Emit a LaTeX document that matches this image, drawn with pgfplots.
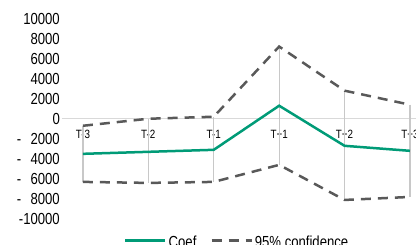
\documentclass[border=0pt]{standalone}
\usepackage{pgfplots}
\pgfplotsset{compat=1.18}
\usepackage{fontspec}
\setmainfont{Liberation Sans}[FakeStretch=0.82]
\definecolor{coefgreen}{RGB}{0,155,119}
\definecolor{cigray}{RGB}{89,89,89}
\definecolor{hlgray}{RGB}{200,200,200}
\definecolor{zerogray}{RGB}{217,217,217}
\pgfplotstableread{
x coef upper lower
0 -3500 -700 -6300
1 -3300 0 -6400
2 -3100 200 -6300
3 1300 7200 -4600
4 -2700 2800 -8100
5 -3200 1400 -7800
}\datatable
\newcommand{\negl}[1]{\makebox[43pt]{-\hfill #1}}
\begin{document}
\begin{tikzpicture}[x=1pt,y=1pt]
\begin{axis}[
  at={(62pt,26pt)}, anchor=south west,
  scale only axis, width=368.9pt, height=200.5pt,
  xmin=-0.32, xmax=5.32, ymin=-10000, ymax=10000,
  scaled y ticks=false,
  axis x line=middle, axis y line=left,
  x axis line style={zerogray, line width=1.2pt, -},
  y axis line style={draw=none},
  hide obscured x ticks=false,
  major tick length=0pt,
  xtick={0,1,2,3,4,5},
  xticklabels={T-3,T-2,T-1,T+1,T+2,T+3},
  xticklabel style={font=\fontsize{12}{12}\selectfont, anchor=north, inner sep=0pt, yshift=-11pt},
  ytick={-10000,-8000,-6000,-4000,-2000,0,2000,4000,6000,8000,10000},
  yticklabels={-10000,\negl{8000},\negl{6000},\negl{4000},\negl{2000},0,2000,4000,6000,8000,10000},
  yticklabel style={font=\fontsize{16}{16}\selectfont, anchor=east, inner sep=0pt, xshift=-2pt},
  clip=false,
  legend columns=2,
  legend style={draw=none, fill=none, at={(axis description cs:0.475,-0.118)}, anchor=center,
    font=\fontsize{16}{16}\selectfont, inner sep=0pt,
    /tikz/every even column/.append style={column sep=12pt}},
  legend image code/.code={\draw[#1] (0pt,2pt) -- (40pt,2pt);},
]
\addplot[hlgray, line width=1.3pt, forget plot] coordinates {(0,-700) (0,-6300)};
\addplot[hlgray, line width=1.3pt, forget plot] coordinates {(1,0) (1,-6400)};
\addplot[hlgray, line width=1.3pt, forget plot] coordinates {(2,200) (2,-6300)};
\addplot[hlgray, line width=1.3pt, forget plot] coordinates {(3,7200) (3,-4600)};
\addplot[hlgray, line width=1.3pt, forget plot] coordinates {(4,2800) (4,-8100)};
\addplot[hlgray, line width=1.3pt, forget plot] coordinates {(5,1400) (5,-7800)};
\addplot[coefgreen, line width=2.5pt] table[x=x, y=coef] {\datatable};
\addlegendentry{Coef}
\addplot[cigray, line width=2.5pt, dash pattern=on 10pt off 7pt] table[x=x, y=upper] {\datatable};
\addlegendentry{95\% confidence}
\addplot[cigray, line width=2.5pt, dash pattern=on 10pt off 7pt, forget plot] table[x=x, y=lower] {\datatable};
\end{axis}
\pgfresetboundingbox
\useasboundingbox (0,0) rectangle (416,245);
\end{tikzpicture}
\end{document}
